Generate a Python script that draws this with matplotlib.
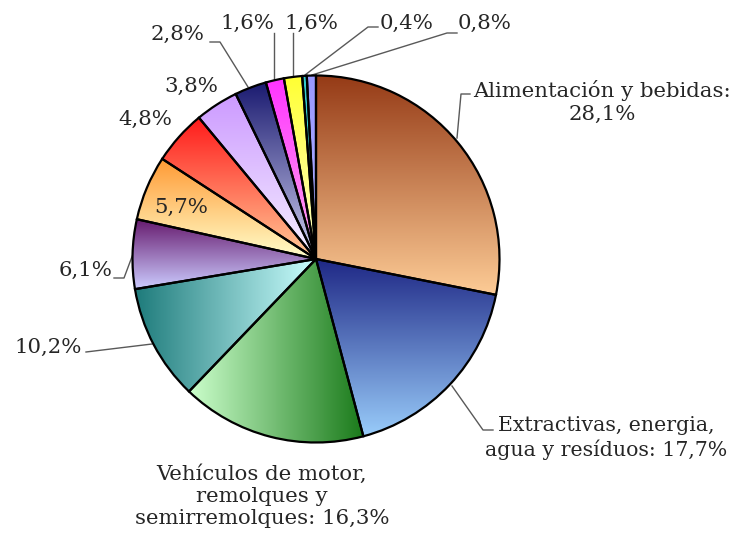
import numpy as np
import matplotlib
matplotlib.use("Agg")
import matplotlib.pyplot as plt
from matplotlib.colors import to_rgb

# ---------------- data ----------------
categories = [
    "Alimentación y bebidas", "Extractivas, energia,\nagua y resíduos",
    "Vehículos de motor,\nremolques y\nsemirremolques", "Cat4", "Cat5", "Cat6",
    "Cat7", "Cat8", "Cat9", "Cat10", "Cat11", "Cat12", "Cat13",
]
values = [28.1, 17.7, 16.3, 10.2, 6.1, 5.7, 4.8, 3.8, 2.8, 1.6, 1.6, 0.4, 0.8]

# gradient colours (start, end, direction)
grad_start = ["#953A16", "#1E2785", "#CCFFCC", "#1E7B7B", "#661A6E", "#FF9933",
              "#FF1A1A", "#CC99FF", "#1A1A70", "#FF33FF", "#FFFF33", "#33CCCC", "#9999FF"]
grad_end = ["#FDCC96", "#99CCFA", "#1A7A1A", "#CCFFFF", "#CCCCFF", "#FFFFCC",
            "#FFCC99", "#F5F0FF", "#D0D0F0", "#FFAAEE", "#FFFFCC", "#55DDDD", "#B0B0FF"]
grad_dir = ["v", "v", "h", "h", "v", "v", "v", "v", "v", "v", "v", "v", "v"]

W, H = 747, 538
fig = plt.figure(figsize=(W / 100, H / 100), dpi=100)
ax = fig.add_axes([0, 0, 1, 1])
ax.axis("off")

cx, cy, R = 316, H - 259, 183.5
wedges, _ = ax.pie(values, startangle=90, counterclock=False, center=(cx, cy), radius=R,
                   wedgeprops=dict(edgecolor="black", linewidth=1.6, facecolor="none", zorder=3))

N = 256
for w, c0, c1, d in zip(wedges, grad_start, grad_end, grad_dir):
    w.set_zorder(3)
    ext = w.get_path().get_extents()
    a = np.array(to_rgb(c0)); b = np.array(to_rgb(c1))
    t = np.linspace(0, 1, N)[:, None]
    cols = a * (1 - t) + b * t
    if d == "v":
        img = np.repeat(cols[:, None, :], 2, axis=1)
    else:
        img = np.repeat(cols[None, :, :], 2, axis=0)
    ax.imshow(img, extent=[ext.x0, ext.x1, ext.y0, ext.y1], origin="upper",
              interpolation="bilinear", clip_path=w, zorder=2, aspect="auto")

ax.set_xlim(0, W)
ax.set_ylim(0, H)
ax.set_aspect("equal")

def fmt(v):
    return f"{v:.1f}".replace(".", ",") + "%"

txt_kw = dict(fontfamily="DejaVu Serif", fontsize=15.3, color="#262626")
lc = dict(color="#595959", lw=1.0, zorder=1)
LS = 1.22

def Y(y):
    return H - y

# labels (image coords for positions)
ax.text(602, Y(102), f"{categories[0]}:\n{fmt(values[0])}", ha="center", va="center",
        linespacing=LS, **txt_kw)
ax.plot([457, 461, 470], [Y(138), Y(94), Y(94)], **lc)

kw2 = dict(txt_kw, fontsize=14.8)
ax.text(606, Y(438), f"{categories[1]}: {fmt(values[1])}", ha="center", va="center",
        linespacing=LS, **kw2)
ax.plot([452, 483, 493], [Y(386), Y(430), Y(430)], **lc)

ax.text(262, Y(496), f"{categories[2]}: {fmt(values[2])}", ha="center", va="center",
        linespacing=LS, **txt_kw)

ax.text(82, Y(347), fmt(values[3]), ha="right", va="center", **txt_kw)
ax.plot([86, 152], [Y(352), Y(344)], **lc)

ax.text(112, Y(270), fmt(values[4]), ha="right", va="center", **txt_kw)
ax.plot([114, 124, 133], [Y(278), Y(278), Y(254)], **lc)

ax.text(181, Y(207), fmt(values[5]), ha="center", va="center", **txt_kw)
ax.text(145, Y(119), fmt(values[6]), ha="center", va="center", **txt_kw)
ax.text(191, Y(86), fmt(values[7]), ha="center", va="center", **txt_kw)

ax.text(178, Y(34), fmt(values[8]), ha="center", va="center", **txt_kw)
ax.plot([210, 220, 248], [Y(42), Y(42), Y(87)], **lc)

ax.text(247, Y(23), fmt(values[9]), ha="center", va="center", **txt_kw)
ax.plot([274, 274], [Y(33), Y(80)], **lc)

ax.text(311, Y(23), fmt(values[10]), ha="center", va="center", **txt_kw)
ax.plot([293, 293], [Y(33), Y(77)], **lc)

ax.text(407, Y(23), fmt(values[11]), ha="center", va="center", **txt_kw)
ax.plot([305, 368, 378], [Y(75), Y(27), Y(27)], **lc)

ax.text(485, Y(23), fmt(values[12]), ha="center", va="center", **txt_kw)
ax.plot([312, 447, 457], [Y(75), Y(33), Y(33)], **lc)

fig.savefig("out.png", dpi=100, facecolor="white")
